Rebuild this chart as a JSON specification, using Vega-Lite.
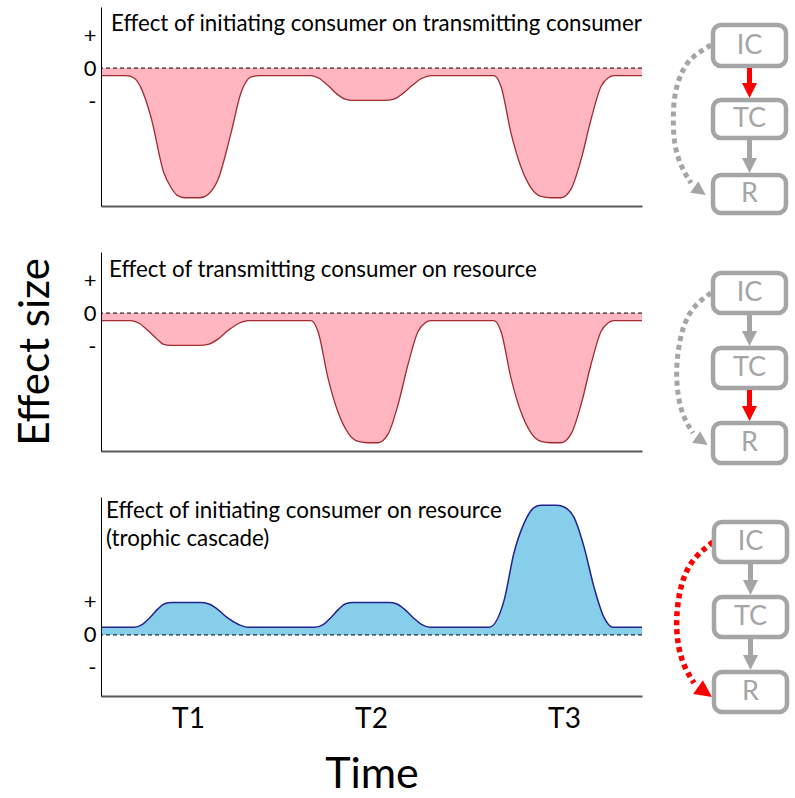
{
  "$schema": "https://vega.github.io/schema/vega-lite/v6.json",
  "padding": {"left": 14, "top": 7, "right": 0, "bottom": 0},
  "bounds": "flush",
  "columns": 2,
  "spacing": {"row": 46, "column": 20},
  "config": {
    "view": {"stroke": null},
    "font": "Lato",
    "axis": {"labelFont": "Lato", "titleFont": "Lato"},
    "title": {"font": "Lato"}
  },
  "concat": [
    {
      "width": 541,
      "height": 199,
      "title": {"text": "Effect of initiating consumer on transmitting consumer", "anchor": "start", "frame": "group", "orient": "top", "offset": -28, "dx": 10, "fontSize": 22.3, "fontWeight": "normal", "color": "black"},
      "data": {"values": [
        {"time": 0, "effect": -0.23}, {"time": 25, "effect": -0.23}, {"time": 33, "effect": -0.30}, {"time": 40, "effect": -0.60},
        {"time": 50, "effect": -1.49}, {"time": 63, "effect": -3.19}, {"time": 70, "effect": -3.62}, {"time": 76, "effect": -3.85},
        {"time": 84, "effect": -3.93}, {"time": 99, "effect": -3.93}, {"time": 107, "effect": -3.83}, {"time": 117, "effect": -3.38},
        {"time": 130, "effect": -1.97}, {"time": 140, "effect": -0.75}, {"time": 150, "effect": -0.27}, {"time": 158, "effect": -0.23},
        {"time": 210, "effect": -0.23}, {"time": 218, "effect": -0.31}, {"time": 227, "effect": -0.53}, {"time": 236, "effect": -0.79},
        {"time": 244, "effect": -0.94}, {"time": 252, "effect": -0.98}, {"time": 283, "effect": -0.98}, {"time": 293, "effect": -0.94},
        {"time": 301, "effect": -0.79}, {"time": 311, "effect": -0.53}, {"time": 321, "effect": -0.31}, {"time": 330, "effect": -0.23},
        {"time": 393, "effect": -0.23}, {"time": 400, "effect": -0.56}, {"time": 410, "effect": -1.97}, {"time": 420, "effect": -3.0},
        {"time": 430, "effect": -3.63}, {"time": 440, "effect": -3.89}, {"time": 450, "effect": -3.93}, {"time": 460, "effect": -3.93},
        {"time": 470, "effect": -3.67}, {"time": 480, "effect": -2.78}, {"time": 490, "effect": -1.56}, {"time": 500, "effect": -0.56},
        {"time": 507, "effect": -0.30}, {"time": 513, "effect": -0.23}, {"time": 541, "effect": -0.23}
      ]},
      "layer": [
        {
          "mark": {"type": "area", "interpolate": "monotone", "color": "#FFB6C1"},
          "encoding": {
            "x": {"field": "time", "type": "quantitative", "scale": {"domain": [0, 541], "nice": false, "zero": false},
                  "axis": {"labels": false, "ticks": false, "grid": false, "title": null, "domainColor": "#595959", "domainWidth": 2, "zindex": 1}},
            "y": {"field": "effect", "type": "quantitative", "scale": {"domain": [-4.18, 1.85], "nice": false, "zero": false},
                  "axis": {"values": [1, 0, -1], "labelExpr": "datum.value > 0 ? '+' : datum.value < 0 ? '-' : '0'", "ticks": false, "grid": false, "title": null, "domainColor": "black", "domainWidth": 1, "labelFontSize": 22, "labelColor": "black", "labelPadding": 5, "zindex": 1}},
            "y2": {"datum": 0}
          }
        },
        {
          "mark": {"type": "line", "interpolate": "monotone", "color": "#A32A2F", "strokeWidth": 1.3},
          "encoding": {"x": {"field": "time", "type": "quantitative"}, "y": {"field": "effect", "type": "quantitative"}}
        },
        {
          "data": {"values": [{}]},
          "mark": {"type": "rule", "color": "black", "strokeDash": [4, 3], "strokeWidth": 1},
          "encoding": {"y": {"datum": 0}}
        }
      ]
    },
    {
      "width": 134,
      "height": 199,
      "layer": [
        {
          "data": {"values": [
            {"o": 1, "x": 49, "y": 38, "active": "no"}, {"o": 2, "x": 29, "y": 50, "active": "no"}, {"o": 3, "x": 19, "y": 65, "active": "no"},
            {"o": 4, "x": 12, "y": 88, "active": "no"}, {"o": 5, "x": 11, "y": 112, "active": "no"}, {"o": 6, "x": 12, "y": 138, "active": "no"},
            {"o": 7, "x": 19, "y": 160, "active": "no"}, {"o": 8, "x": 29, "y": 176, "active": "no"}
          ]},
          "mark": {"type": "line", "interpolate": "basis", "strokeWidth": 5, "strokeDash": [5, 4]},
          "encoding": {
            "x": {"field": "x", "type": "quantitative", "scale": {"domain": [0, 134], "nice": false, "zero": false}, "axis": null},
            "y": {"field": "y", "type": "quantitative", "scale": {"domain": [0, 199], "nice": false, "zero": false, "reverse": true}, "axis": null},
            "order": {"field": "o"},
            "color": {"field": "active", "type": "nominal", "scale": {"domain": ["yes", "no"], "range": ["#FF0000", "#A5A5A5"]}, "legend": null}
          }
        },
        {
          "data": {"values": [{"x": 38, "y": 184, "active": "no"}]},
          "mark": {"type": "point", "shape": "M-1,-1L1,0L-1,1Z", "filled": true, "opacity": 1, "size": 196, "angle": 35},
          "encoding": {
            "x": {"field": "x", "type": "quantitative", "scale": {"domain": [0, 134], "nice": false, "zero": false}, "axis": null},
            "y": {"field": "y", "type": "quantitative", "scale": {"domain": [0, 199], "nice": false, "zero": false, "reverse": true}, "axis": null},
            "color": {"field": "active", "type": "nominal", "scale": {"domain": ["yes", "no"], "range": ["#FF0000", "#A5A5A5"]}, "legend": null}
          }
        },
        {
          "data": {"values": [
            {"node": "IC", "x1": 51, "x2": 124, "y1": 18, "y2": 59, "cx": 87.5, "cy": 38.5},
            {"node": "TC", "x1": 51, "x2": 124, "y1": 93, "y2": 131, "cx": 87.5, "cy": 112},
            {"node": "R", "x1": 51, "x2": 124, "y1": 168, "y2": 206, "cx": 87.5, "cy": 187}
          ]},
          "layer": [
            {
              "mark": {"type": "rect", "fill": "white", "stroke": "#A5A5A5", "strokeWidth": 4.5, "cornerRadius": 8},
              "encoding": {
                "x": {"field": "x1", "type": "quantitative", "scale": {"domain": [0, 134], "nice": false, "zero": false}, "axis": null},
                "x2": {"field": "x2"},
                "y": {"field": "y1", "type": "quantitative", "scale": {"domain": [0, 199], "nice": false, "zero": false, "reverse": true}, "axis": null},
                "y2": {"field": "y2"}
              }
            },
            {
              "mark": {"type": "text", "fontSize": 27, "color": "#A5A5A5", "align": "center", "baseline": "middle"},
              "encoding": {
                "x": {"field": "cx", "type": "quantitative", "scale": {"domain": [0, 134], "nice": false, "zero": false}, "axis": null},
                "y": {"field": "cy", "type": "quantitative", "scale": {"domain": [0, 199], "nice": false, "zero": false, "reverse": true}, "axis": null},
                "text": {"field": "node"}
              }
            }
          ]
        },
        {
          "data": {"values": [
            {"link": "IC-TC", "x": 87.5, "ys": 61, "ye": 91, "active": "yes"},
            {"link": "TC-R", "x": 87.5, "ys": 133, "ye": 166, "active": "no"}
          ]},
          "layer": [
            {
              "mark": {"type": "rule", "strokeWidth": 5, "y2Offset": -12},
              "encoding": {
                "x": {"field": "x", "type": "quantitative", "scale": {"domain": [0, 134], "nice": false, "zero": false}, "axis": null},
                "y": {"field": "ys", "type": "quantitative", "scale": {"domain": [0, 199], "nice": false, "zero": false, "reverse": true}, "axis": null},
                "y2": {"field": "ye"},
                "color": {"field": "active", "type": "nominal", "scale": {"domain": ["yes", "no"], "range": ["#FF0000", "#A5A5A5"]}, "legend": null}
              }
            },
            {
              "mark": {"type": "point", "shape": "M-1,-1L1,-1L0,1Z", "filled": true, "opacity": 1, "size": 225, "yOffset": -7.5},
              "encoding": {
                "x": {"field": "x", "type": "quantitative", "scale": {"domain": [0, 134], "nice": false, "zero": false}, "axis": null},
                "y": {"field": "ye", "type": "quantitative", "scale": {"domain": [0, 199], "nice": false, "zero": false, "reverse": true}, "axis": null},
                "color": {"field": "active", "type": "nominal", "scale": {"domain": ["yes", "no"], "range": ["#FF0000", "#A5A5A5"]}, "legend": null}
              }
            }
          ]
        }
      ]
    },
    {
      "width": 541,
      "height": 199,
      "title": {"text": "Effect of transmitting consumer on resource", "anchor": "start", "frame": "group", "orient": "top", "offset": -29, "dx": 8, "fontSize": 22.3, "fontWeight": "normal", "color": "black"},
      "data": {"values": [
        {"time": 0, "effect": -0.23}, {"time": 30, "effect": -0.23}, {"time": 38, "effect": -0.31}, {"time": 47, "effect": -0.53},
        {"time": 56, "effect": -0.79}, {"time": 62, "effect": -0.94}, {"time": 70, "effect": -0.98}, {"time": 98, "effect": -0.98},
        {"time": 108, "effect": -0.94}, {"time": 117, "effect": -0.79}, {"time": 127, "effect": -0.53}, {"time": 138, "effect": -0.31},
        {"time": 147, "effect": -0.23}, {"time": 210, "effect": -0.23}, {"time": 217, "effect": -0.56}, {"time": 227, "effect": -1.97},
        {"time": 237, "effect": -3.0}, {"time": 247, "effect": -3.63}, {"time": 257, "effect": -3.89}, {"time": 267, "effect": -3.93},
        {"time": 277, "effect": -3.93}, {"time": 287, "effect": -3.67}, {"time": 297, "effect": -2.78}, {"time": 307, "effect": -1.56},
        {"time": 317, "effect": -0.56}, {"time": 324, "effect": -0.30}, {"time": 330, "effect": -0.23}, {"time": 393, "effect": -0.23},
        {"time": 400, "effect": -0.56}, {"time": 410, "effect": -1.97}, {"time": 420, "effect": -3.0}, {"time": 430, "effect": -3.63},
        {"time": 440, "effect": -3.89}, {"time": 450, "effect": -3.93}, {"time": 460, "effect": -3.93}, {"time": 470, "effect": -3.67},
        {"time": 480, "effect": -2.78}, {"time": 490, "effect": -1.56}, {"time": 500, "effect": -0.56}, {"time": 507, "effect": -0.30},
        {"time": 513, "effect": -0.23}, {"time": 541, "effect": -0.23}
      ]},
      "layer": [
        {
          "mark": {"type": "area", "interpolate": "monotone", "color": "#FFB6C1"},
          "encoding": {
            "x": {"field": "time", "type": "quantitative", "scale": {"domain": [0, 541], "nice": false, "zero": false},
                  "axis": {"labels": false, "ticks": false, "grid": false, "title": null, "domainColor": "#595959", "domainWidth": 2, "zindex": 1}},
            "y": {"field": "effect", "type": "quantitative", "scale": {"domain": [-4.18, 1.85], "nice": false, "zero": false},
                  "axis": {"values": [1, 0, -1], "labelExpr": "datum.value > 0 ? '+' : datum.value < 0 ? '-' : '0'", "ticks": false, "grid": false, "title": "Effect size", "titleFontSize": 42, "titleFontWeight": "normal", "titleColor": "black", "titlePadding": 26, "domainColor": "black", "domainWidth": 1, "labelFontSize": 22, "labelColor": "black", "labelPadding": 5, "zindex": 1}},
            "y2": {"datum": 0}
          }
        },
        {
          "mark": {"type": "line", "interpolate": "monotone", "color": "#A32A2F", "strokeWidth": 1.3},
          "encoding": {"x": {"field": "time", "type": "quantitative"}, "y": {"field": "effect", "type": "quantitative"}}
        },
        {
          "data": {"values": [{}]},
          "mark": {"type": "rule", "color": "black", "strokeDash": [4, 3], "strokeWidth": 1},
          "encoding": {"y": {"datum": 0}}
        }
      ]
    },
    {
      "width": 134,
      "height": 199,
      "layer": [
        {
          "data": {"values": [
            {"o": 1, "x": 49, "y": 41, "active": "no"}, {"o": 2, "x": 32, "y": 53, "active": "no"}, {"o": 3, "x": 21, "y": 73, "active": "no"},
            {"o": 4, "x": 16, "y": 98, "active": "no"}, {"o": 5, "x": 14, "y": 121, "active": "no"}, {"o": 6, "x": 16, "y": 145, "active": "no"},
            {"o": 7, "x": 21, "y": 165, "active": "no"}, {"o": 8, "x": 31, "y": 181, "active": "no"}
          ]},
          "mark": {"type": "line", "interpolate": "basis", "strokeWidth": 5, "strokeDash": [5, 4]},
          "encoding": {
            "x": {"field": "x", "type": "quantitative", "scale": {"domain": [0, 134], "nice": false, "zero": false}, "axis": null},
            "y": {"field": "y", "type": "quantitative", "scale": {"domain": [0, 199], "nice": false, "zero": false, "reverse": true}, "axis": null},
            "order": {"field": "o"},
            "color": {"field": "active", "type": "nominal", "scale": {"domain": ["yes", "no"], "range": ["#FF0000", "#A5A5A5"]}, "legend": null}
          }
        },
        {
          "data": {"values": [{"x": 40, "y": 189, "active": "no"}]},
          "mark": {"type": "point", "shape": "M-1,-1L1,0L-1,1Z", "filled": true, "opacity": 1, "size": 196, "angle": 35},
          "encoding": {
            "x": {"field": "x", "type": "quantitative", "scale": {"domain": [0, 134], "nice": false, "zero": false}, "axis": null},
            "y": {"field": "y", "type": "quantitative", "scale": {"domain": [0, 199], "nice": false, "zero": false, "reverse": true}, "axis": null},
            "color": {"field": "active", "type": "nominal", "scale": {"domain": ["yes", "no"], "range": ["#FF0000", "#A5A5A5"]}, "legend": null}
          }
        },
        {
          "data": {"values": [
            {"node": "IC", "x1": 51, "x2": 124, "y1": 21, "y2": 61, "cx": 87.5, "cy": 41},
            {"node": "TC", "x1": 51, "x2": 124, "y1": 96, "y2": 136, "cx": 87.5, "cy": 116},
            {"node": "R", "x1": 51, "x2": 124, "y1": 171, "y2": 211, "cx": 87.5, "cy": 191}
          ]},
          "layer": [
            {
              "mark": {"type": "rect", "fill": "white", "stroke": "#A5A5A5", "strokeWidth": 4.5, "cornerRadius": 8},
              "encoding": {
                "x": {"field": "x1", "type": "quantitative", "scale": {"domain": [0, 134], "nice": false, "zero": false}, "axis": null},
                "x2": {"field": "x2"},
                "y": {"field": "y1", "type": "quantitative", "scale": {"domain": [0, 199], "nice": false, "zero": false, "reverse": true}, "axis": null},
                "y2": {"field": "y2"}
              }
            },
            {
              "mark": {"type": "text", "fontSize": 27, "color": "#A5A5A5", "align": "center", "baseline": "middle"},
              "encoding": {
                "x": {"field": "cx", "type": "quantitative", "scale": {"domain": [0, 134], "nice": false, "zero": false}, "axis": null},
                "y": {"field": "cy", "type": "quantitative", "scale": {"domain": [0, 199], "nice": false, "zero": false, "reverse": true}, "axis": null},
                "text": {"field": "node"}
              }
            }
          ]
        },
        {
          "data": {"values": [
            {"link": "IC-TC", "x": 87.5, "ys": 63, "ye": 94, "active": "no"},
            {"link": "TC-R", "x": 87.5, "ys": 138, "ye": 169, "active": "yes"}
          ]},
          "layer": [
            {
              "mark": {"type": "rule", "strokeWidth": 5, "y2Offset": -12},
              "encoding": {
                "x": {"field": "x", "type": "quantitative", "scale": {"domain": [0, 134], "nice": false, "zero": false}, "axis": null},
                "y": {"field": "ys", "type": "quantitative", "scale": {"domain": [0, 199], "nice": false, "zero": false, "reverse": true}, "axis": null},
                "y2": {"field": "ye"},
                "color": {"field": "active", "type": "nominal", "scale": {"domain": ["yes", "no"], "range": ["#FF0000", "#A5A5A5"]}, "legend": null}
              }
            },
            {
              "mark": {"type": "point", "shape": "M-1,-1L1,-1L0,1Z", "filled": true, "opacity": 1, "size": 225, "yOffset": -7.5},
              "encoding": {
                "x": {"field": "x", "type": "quantitative", "scale": {"domain": [0, 134], "nice": false, "zero": false}, "axis": null},
                "y": {"field": "ye", "type": "quantitative", "scale": {"domain": [0, 199], "nice": false, "zero": false, "reverse": true}, "axis": null},
                "color": {"field": "active", "type": "nominal", "scale": {"domain": ["yes", "no"], "range": ["#FF0000", "#A5A5A5"]}, "legend": null}
              }
            }
          ]
        }
      ]
    },
    {
      "width": 541,
      "height": 199,
      "title": {"text": ["Effect of initiating consumer on resource", "(trophic cascade)"], "anchor": "start", "frame": "group", "orient": "top", "offset": -53, "dx": 5, "fontSize": 22.3, "lineHeight": 28, "fontWeight": "normal", "color": "black"},
      "data": {"values": [
        {"time": 0, "effect": 0.23}, {"time": 33, "effect": 0.23}, {"time": 41, "effect": 0.31}, {"time": 49, "effect": 0.53},
        {"time": 57, "effect": 0.79}, {"time": 63, "effect": 0.94}, {"time": 71, "effect": 0.98}, {"time": 99, "effect": 0.98},
        {"time": 108, "effect": 0.94}, {"time": 116, "effect": 0.79}, {"time": 126, "effect": 0.53}, {"time": 138, "effect": 0.31},
        {"time": 147, "effect": 0.23}, {"time": 214, "effect": 0.23}, {"time": 222, "effect": 0.31}, {"time": 230, "effect": 0.53},
        {"time": 238, "effect": 0.79}, {"time": 244, "effect": 0.94}, {"time": 252, "effect": 0.98}, {"time": 288, "effect": 0.98},
        {"time": 296, "effect": 0.94}, {"time": 303, "effect": 0.79}, {"time": 312, "effect": 0.53}, {"time": 321, "effect": 0.31},
        {"time": 329, "effect": 0.23}, {"time": 388, "effect": 0.23}, {"time": 403, "effect": 1.04}, {"time": 413, "effect": 2.49},
        {"time": 423, "effect": 3.38}, {"time": 433, "effect": 3.86}, {"time": 440, "effect": 3.93}, {"time": 455, "effect": 3.93},
        {"time": 462, "effect": 3.89}, {"time": 473, "effect": 3.56}, {"time": 483, "effect": 2.67}, {"time": 493, "effect": 1.45},
        {"time": 503, "effect": 0.53}, {"time": 512, "effect": 0.23}, {"time": 541, "effect": 0.23}
      ]},
      "layer": [
        {
          "mark": {"type": "area", "interpolate": "monotone", "color": "#87CEEB"},
          "encoding": {
            "x": {"field": "time", "type": "quantitative", "scale": {"domain": [0, 541], "nice": false, "zero": false},
                  "axis": {"values": [87, 270, 463], "labelExpr": "datum.value < 100 ? 'T1' : datum.value < 300 ? 'T2' : 'T3'", "ticks": false, "grid": false, "labelFontSize": 28, "labelColor": "black", "labelPadding": 9, "title": "Time", "titleFontSize": 43, "titleFontWeight": "normal", "titleColor": "black", "titlePadding": 20, "domainColor": "#595959", "domainWidth": 2, "zindex": 1}},
            "y": {"field": "effect", "type": "quantitative", "scale": {"domain": [-1.85, 4.18], "nice": false, "zero": false},
                  "axis": {"values": [1, 0, -1], "labelExpr": "datum.value > 0 ? '+' : datum.value < 0 ? '-' : '0'", "ticks": false, "grid": false, "title": null, "domainColor": "black", "domainWidth": 1, "labelFontSize": 22, "labelColor": "black", "labelPadding": 5, "zindex": 1}},
            "y2": {"datum": 0}
          }
        },
        {
          "mark": {"type": "line", "interpolate": "monotone", "color": "#23238E", "strokeWidth": 1.5},
          "encoding": {"x": {"field": "time", "type": "quantitative"}, "y": {"field": "effect", "type": "quantitative"}}
        },
        {
          "data": {"values": [{}]},
          "mark": {"type": "rule", "color": "black", "strokeDash": [4, 3], "strokeWidth": 1},
          "encoding": {"y": {"datum": 0}}
        }
      ]
    },
    {
      "width": 134,
      "height": 199,
      "layer": [
        {
          "data": {"values": [
            {"o": 1, "x": 51, "y": 45, "active": "yes"}, {"o": 2, "x": 32, "y": 60, "active": "yes"}, {"o": 3, "x": 21, "y": 80, "active": "yes"},
            {"o": 4, "x": 16, "y": 103, "active": "yes"}, {"o": 5, "x": 14, "y": 126, "active": "yes"}, {"o": 6, "x": 16, "y": 150, "active": "yes"},
            {"o": 7, "x": 22, "y": 170, "active": "yes"}, {"o": 8, "x": 32, "y": 186, "active": "yes"}
          ]},
          "mark": {"type": "line", "interpolate": "basis", "strokeWidth": 5.5, "strokeDash": [5, 4]},
          "encoding": {
            "x": {"field": "x", "type": "quantitative", "scale": {"domain": [0, 134], "nice": false, "zero": false}, "axis": null},
            "y": {"field": "y", "type": "quantitative", "scale": {"domain": [0, 199], "nice": false, "zero": false, "reverse": true}, "axis": null},
            "order": {"field": "o"},
            "color": {"field": "active", "type": "nominal", "scale": {"domain": ["yes", "no"], "range": ["#FF0000", "#A5A5A5"]}, "legend": null}
          }
        },
        {
          "data": {"values": [{"x": 43, "y": 195, "active": "yes"}]},
          "mark": {"type": "point", "shape": "M-1,-1L1,0L-1,1Z", "filled": true, "opacity": 1, "size": 290, "angle": 35},
          "encoding": {
            "x": {"field": "x", "type": "quantitative", "scale": {"domain": [0, 134], "nice": false, "zero": false}, "axis": null},
            "y": {"field": "y", "type": "quantitative", "scale": {"domain": [0, 199], "nice": false, "zero": false, "reverse": true}, "axis": null},
            "color": {"field": "active", "type": "nominal", "scale": {"domain": ["yes", "no"], "range": ["#FF0000", "#A5A5A5"]}, "legend": null}
          }
        },
        {
          "data": {"values": [
            {"node": "IC", "x1": 52, "x2": 125, "y1": 25, "y2": 65, "cx": 88.5, "cy": 45},
            {"node": "TC", "x1": 52, "x2": 125, "y1": 100, "y2": 140, "cx": 88.5, "cy": 120},
            {"node": "R", "x1": 52, "x2": 125, "y1": 175, "y2": 215, "cx": 88.5, "cy": 195}
          ]},
          "layer": [
            {
              "mark": {"type": "rect", "fill": "white", "stroke": "#A5A5A5", "strokeWidth": 4.5, "cornerRadius": 8},
              "encoding": {
                "x": {"field": "x1", "type": "quantitative", "scale": {"domain": [0, 134], "nice": false, "zero": false}, "axis": null},
                "x2": {"field": "x2"},
                "y": {"field": "y1", "type": "quantitative", "scale": {"domain": [0, 199], "nice": false, "zero": false, "reverse": true}, "axis": null},
                "y2": {"field": "y2"}
              }
            },
            {
              "mark": {"type": "text", "fontSize": 27, "color": "#A5A5A5", "align": "center", "baseline": "middle"},
              "encoding": {
                "x": {"field": "cx", "type": "quantitative", "scale": {"domain": [0, 134], "nice": false, "zero": false}, "axis": null},
                "y": {"field": "cy", "type": "quantitative", "scale": {"domain": [0, 199], "nice": false, "zero": false, "reverse": true}, "axis": null},
                "text": {"field": "node"}
              }
            }
          ]
        },
        {
          "data": {"values": [
            {"link": "IC-TC", "x": 88.5, "ys": 67, "ye": 98, "active": "no"},
            {"link": "TC-R", "x": 88.5, "ys": 142, "ye": 173, "active": "no"}
          ]},
          "layer": [
            {
              "mark": {"type": "rule", "strokeWidth": 5, "y2Offset": -12},
              "encoding": {
                "x": {"field": "x", "type": "quantitative", "scale": {"domain": [0, 134], "nice": false, "zero": false}, "axis": null},
                "y": {"field": "ys", "type": "quantitative", "scale": {"domain": [0, 199], "nice": false, "zero": false, "reverse": true}, "axis": null},
                "y2": {"field": "ye"},
                "color": {"field": "active", "type": "nominal", "scale": {"domain": ["yes", "no"], "range": ["#FF0000", "#A5A5A5"]}, "legend": null}
              }
            },
            {
              "mark": {"type": "point", "shape": "M-1,-1L1,-1L0,1Z", "filled": true, "opacity": 1, "size": 225, "yOffset": -7.5},
              "encoding": {
                "x": {"field": "x", "type": "quantitative", "scale": {"domain": [0, 134], "nice": false, "zero": false}, "axis": null},
                "y": {"field": "ye", "type": "quantitative", "scale": {"domain": [0, 199], "nice": false, "zero": false, "reverse": true}, "axis": null},
                "color": {"field": "active", "type": "nominal", "scale": {"domain": ["yes", "no"], "range": ["#FF0000", "#A5A5A5"]}, "legend": null}
              }
            }
          ]
        }
      ]
    }
  ]
}
